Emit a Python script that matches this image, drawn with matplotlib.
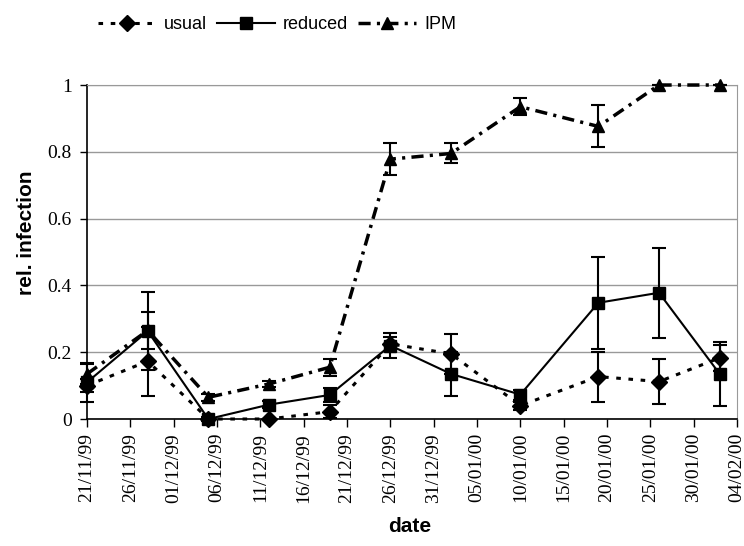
import matplotlib
matplotlib.use("Agg")
import matplotlib.pyplot as plt
import matplotlib.dates as mdates
from matplotlib.lines import Line2D
import pandas as pd

# sampling dates
dates = ['21/11/99', '28/11/99', '05/12/99', '12/12/99', '19/12/99', '26/12/99',
         '02/01/00', '10/01/00', '19/01/00', '26/01/00', '02/02/00']

usual = [0.10, 0.173, 0.0, 0.0, 0.022, 0.225, 0.195, 0.04, 0.127, 0.112, 0.183]
usual_err = [0.02, 0.103, 0.0, 0.0, 0.02, 0.02, 0.06, 0.012, 0.075, 0.067, 0.04]

reduced = [0.11, 0.263, 0.0, 0.043, 0.072, 0.22, 0.135, 0.073, 0.348, 0.378, 0.135]
reduced_err = [0.058, 0.117, 0.005, 0.01, 0.02, 0.036, 0.065, 0.015, 0.138, 0.135, 0.097]

ipm = [0.135, 0.265, 0.065, 0.105, 0.155, 0.778, 0.795, 0.935, 0.876, 1.0, 1.0]
ipm_err = [0.03, 0.055, 0.01, 0.01, 0.025, 0.048, 0.03, 0.025, 0.063, 0.0, 0.0]

yticks = [0, 0.2, 0.4, 0.6, 0.8, 1]
ytick_labels = ['0', '0.2', '0.4', '0.6', '0.8', '1']

x = pd.to_datetime(dates, format='%d/%m/%y')
xticks = pd.date_range(pd.to_datetime('21/11/99', format='%d/%m/%y'),
                       pd.to_datetime('04/02/00', format='%d/%m/%y'), freq='5D')

fig = plt.figure(figsize=(7.44, 5.46), dpi=100)
ax = fig.add_axes([0.117, 0.2326, 0.8736, 0.6117])

ekw = dict(ecolor='black', elinewidth=1.5, capsize=5, capthick=1.5, clip_on=False)

styles = {
    'usual': dict(linestyle=(0, (1.5, 2.5)), linewidth=2.2, marker='D', markersize=8),
    'reduced': dict(linestyle='-', linewidth=1.5, marker='s', markersize=8),
    'IPM': dict(linestyle=(0, (3.5, 1.8, 0.9, 1.8)), linewidth=2.5, marker='^', markersize=9),
}

for name, vals, errs in [('usual', usual, usual_err), ('reduced', reduced, reduced_err),
                         ('IPM', ipm, ipm_err)]:
    c = ax.errorbar(x, vals, yerr=errs, color='black', zorder=3, **styles[name], **ekw)
    c.lines[0].set_clip_on(False)

ax.set_xlim(xticks[0], xticks[-1])
ax.set_ylim(0, 1)
ax.set_xticks(xticks)
ax.xaxis.set_major_formatter(mdates.DateFormatter('%d/%m/%y'))
ax.set_yticks(yticks)
ax.set_yticklabels(ytick_labels)

ax.grid(axis='y', color='#999999', linewidth=1)
ax.set_axisbelow(True)
ax.spines['top'].set_color('#999999')
ax.spines['right'].set_color('#999999')
ax.spines['left'].set_linewidth(1.2)
ax.spines['bottom'].set_linewidth(1.2)

ax.tick_params(axis='x', direction='out', length=6, width=1, rotation=90, pad=4)
ax.tick_params(axis='y', direction='out', length=5, width=1, pad=6)
for lab in ax.get_xticklabels() + ax.get_yticklabels():
    lab.set_family('Liberation Serif')
    lab.set_fontsize(14)

ax.set_xlabel('date', family='Liberation Sans', fontweight='bold', fontsize=15)
ax.set_ylabel('rel. infection', family='Liberation Sans', fontweight='bold', fontsize=15)
ax.xaxis.set_label_coords(0.497, -0.293)
ax.yaxis.set_label_coords(-0.078, 0.557)

handles = [Line2D([], [], color='black', **styles[n]) for n in ['usual', 'reduced', 'IPM']]
fig.legend(handles=handles, labels=['usual', 'reduced', 'IPM'], loc='upper left',
           bbox_to_anchor=(0.11, 1.0), ncol=3, frameon=False, handlelength=3.2,
           handletextpad=0.45, columnspacing=0.55,
           prop={'family': 'Liberation Sans', 'size': 13})

fig.savefig('out.png', dpi=100)
